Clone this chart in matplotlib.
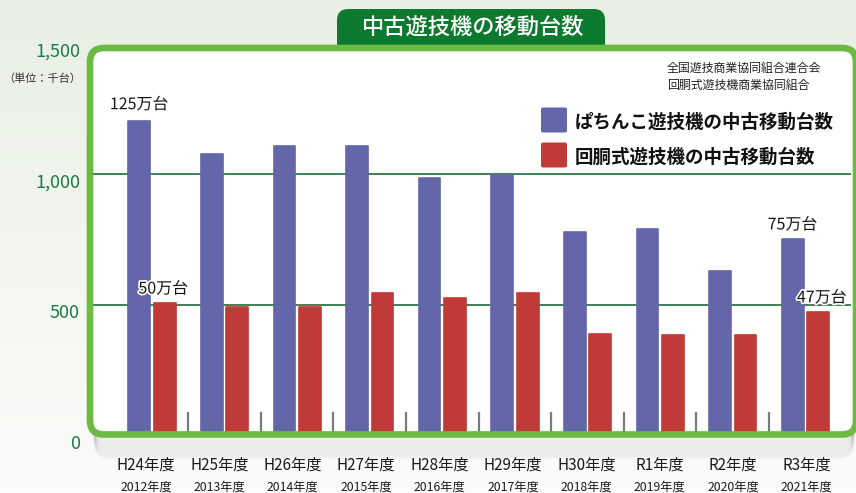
import numpy as np
import matplotlib
matplotlib.use("Agg")
import matplotlib.pyplot as plt
from matplotlib.patches import FancyBboxPatch
from matplotlib.colors import LinearSegmentedColormap
import matplotlib.patheffects as pe

plt.rcParams['font.family'] = ['Noto Sans CJK JP', 'DejaVu Sans']

# ---- data ----
categories = ["H24年度", "H25年度", "H26年度", "H27年度", "H28年度",
              "H29年度", "H30年度", "R1年度", "R2年度", "R3年度"]
years = ["2012年度", "2013年度", "2014年度", "2015年度", "2016年度",
         "2017年度", "2018年度", "2019年度", "2020年度", "2021年度"]
pachinko = [1205, 1077, 1108, 1108, 988, 998, 781, 790, 632, 753]
slot = [508, 494, 494, 546, 526, 546, 389, 386, 386, 474]
yticks = [0, 500, 1000, 1500]
ytick_labels = ["0", "500", "1,000", "1,500"]
series_names = ["ぱちんこ遊技機の中古移動台数", "回胴式遊技機の中古移動台数"]
title = "中古遊技機の移動台数"
unit = "（単位：千台）"
source = ["全国遊技商業協同組合連合会", "回胴式遊技機商業協同組合"]
annotations = [(0, 0, "125万台"), (0, 1, "50万台"), (9, 0, "75万台"), (9, 1, "47万台")]

W, H = 856, 493
fig = plt.figure(figsize=(W / 100, H / 100), dpi=100)

BLUE = "#6366a8"
RED = "#c03a37"
FRAME = "#6cba44"
DGREEN = "#0c7a2e"
TICKGREEN = "#1c7a45"

# ---- background axes (pixel coordinates) ----
bg = fig.add_axes([0, 0, 1, 1], zorder=0)
bg.set_xlim(0, W)
bg.set_ylim(H, 0)
bg.axis("off")
grad = np.linspace(0, 1, 100)[:, None] * np.ones((1, 10))
cm = LinearSegmentedColormap.from_list("bgc", ["#fbfcfa", "#e9efe4"])
bg.imshow(grad, extent=[0, W, 0, H], cmap=cm, aspect="auto", zorder=0)
# shadow under frame
for k in range(16):
    bg.add_patch(FancyBboxPatch((95, 60), 758, 378 + k * 1.3,
                                boxstyle="round,pad=0,rounding_size=14",
                                facecolor="none", edgecolor="#7d7d7d",
                                alpha=0.045, linewidth=2, zorder=1))
# white inside of frame
bg.add_patch(FancyBboxPatch((90, 48), 766, 386.5,
                            boxstyle="round,pad=0,rounding_size=14",
                            facecolor="white", edgecolor="none", zorder=2))

# ---- main chart axes ----
px_per_unit = 0.2614
y0_px = 435.9
top_px = y0_px - 1500 * px_per_unit
ax_left, ax_right = 92, 851
ax = fig.add_axes([ax_left / W, 1 - y0_px / H, (ax_right - ax_left) / W,
                   (y0_px - top_px) / H], zorder=1)
ax.patch.set_alpha(0)
for s in ax.spines.values():
    s.set_visible(False)
ax.set_ylim(0, 1500)
ax.set_xlim(-0.826, 9.628)
ax.set_xticks([])
ax.set_yticks([])

x = np.arange(len(categories))
bw = 0.30
off = 0.176
for g in [500, 1000]:
    ax.axhline(g, color="#1d6b36", linewidth=1.2, zorder=1)
ax.bar(x - off, pachinko, width=bw, color=BLUE, edgecolor=BLUE, linewidth=1.2,
       joinstyle="round", zorder=2)
ax.bar(x + off, slot, width=bw, color=RED, edgecolor=RED, linewidth=1.2,
       joinstyle="round", zorder=2)
# separator ticks
for i in range(len(categories) - 1):
    ax.plot([i + 0.5, i + 0.5], [0, 88], color="#7a7a7a", linewidth=1.6, zorder=2)

halo = [pe.withStroke(linewidth=2.5, foreground="white")]
for (i, s, t) in annotations:
    val = pachinko[i] if s == 0 else slot[i]
    xpos = i - off if s == 0 else i + off
    if s == 1 and i == 9:
        xpos += 0.05
    if s == 1 and i == 0:
        xpos -= 0.02
    dy = 54 if not (s == 0 and i == 0) else 62
    ax.text(xpos, val + dy, t, ha="center", va="center", fontsize=11.5,
            color="#151515", path_effects=halo, zorder=4)

# ---- overlay axes (pixel coordinates) ----
ov = fig.add_axes([0, 0, 1, 1], zorder=3)
ov.set_xlim(0, W)
ov.set_ylim(H, 0)
ov.axis("off")
ov.patch.set_alpha(0)

# title tab
ov.add_patch(FancyBboxPatch((337, 9), 268, 50,
                            boxstyle="round,pad=0,rounding_size=11",
                            facecolor=DGREEN, edgecolor="none", zorder=1))
ov.add_patch(FancyBboxPatch((330, 51), 290, 20, boxstyle="square,pad=0",
                            facecolor="white", edgecolor="none", zorder=1.5))
ov.text(473, 27.5, title, ha="center", va="center", fontsize=16,
        color="white", fontweight="medium", zorder=2)

# frame
ov.add_patch(FancyBboxPatch((90, 48), 766, 386.5,
                            boxstyle="round,pad=0,rounding_size=14",
                            facecolor="none", edgecolor=FRAME, linewidth=4.8, zorder=3))

# y tick labels
for v, lab in zip(yticks, ytick_labels):
    ypx = y0_px - v * px_per_unit + 8
    ov.text(80, ypx, lab, ha="right", va="center", fontsize=13,
            color=TICKGREEN, zorder=4)
ov.text(81, 79, unit, ha="right", va="center", fontsize=8, color="#333333", zorder=4)

# x labels
for i, (c, yr) in enumerate(zip(categories, years)):
    xp = 146 + 73.4 * i
    ov.text(xp, 465, c, ha="center", va="center", fontsize=11, color="#1a1a1a", zorder=4)
    ov.text(xp, 487.5, yr, ha="center", va="center", fontsize=8.8, color="#1a1a1a", zorder=4)

# source
ov.text(667, 68, source[0], ha="left", va="center", fontsize=8.6, color="#222222", zorder=4)
ov.text(667, 85, source[1], ha="left", va="center", fontsize=8.6, color="#222222", zorder=4)

# legend
for k, (name, col) in enumerate(zip(series_names, [BLUE, RED])):
    yc = 120 + 35 * k
    ov.add_patch(FancyBboxPatch((541, yc - 12.5), 26, 25,
                                boxstyle="round,pad=0,rounding_size=2",
                                facecolor=col, edgecolor="none", zorder=4))
    ov.text(575, yc + 2, name, ha="left", va="center", fontsize=13.3,
            fontweight="bold", color="#111111", zorder=4)

fig.savefig("out.png", dpi=100)
